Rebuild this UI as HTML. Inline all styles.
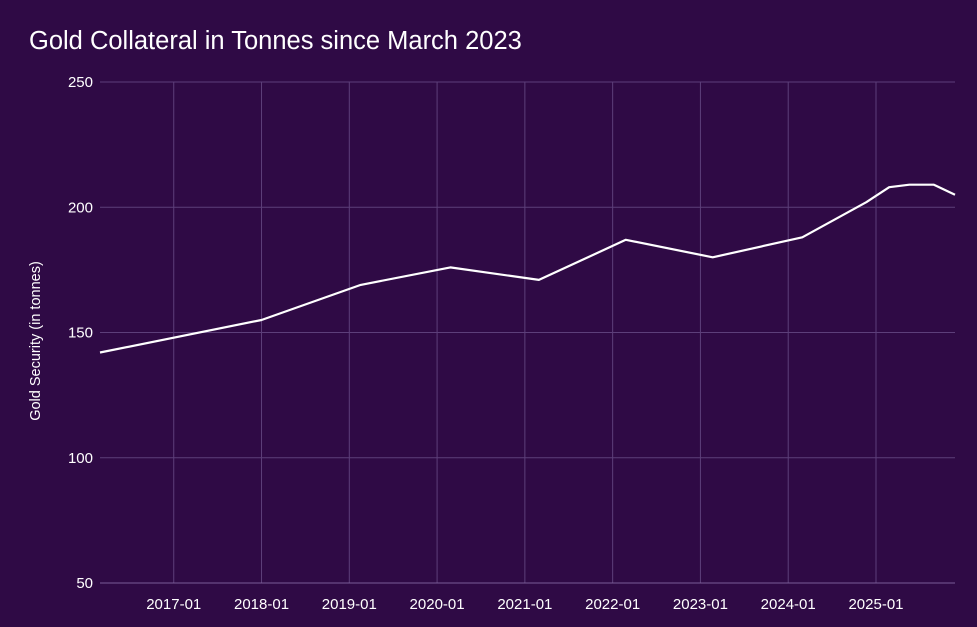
<!DOCTYPE html>
<html><head><meta charset="utf-8"><style>
html,body{margin:0;padding:0;background:#2f0a45;}
svg{display:block;font-family:"Liberation Sans",Arial,sans-serif;}
</style></head><body>
<svg id="chart" width="977" height="627">
<rect width="977" height="627" fill="#2f0a45"/>
<text x="29" y="49" fill="#ffffff" font-size="25.5">Gold Collateral in Tonnes since March 2023</text>
<text transform="translate(40,341) rotate(-90)" text-anchor="middle" fill="#ffffff" font-size="14.5">Gold Security (in tonnes)</text>
<g id="grid"></g><g id="ticks"></g><g id="series"></g>
</svg>
<script>
const xTickLabels=["2017-01","2018-01","2019-01","2020-01","2021-01","2022-01","2023-01","2024-01","2025-01"];
const xTickYears=[2017,2018,2019,2020,2021,2022,2023,2024,2025];
const yTicks=[50,100,150,200,250];
const dates=[2016.16,2018.0,2019.13,2020.15,2021.16,2022.15,2023.14,2024.16,2024.89,2025.15,2025.38,2025.66,2025.9];
const values=[142,155,169,176,171,187,180,188,202,208,209,209,205];
const L=100,R=955,T=82,B=583,xMin=2016.16,xMax=2025.9,yMin=50,yMax=250;
const NS="http://www.w3.org/2000/svg";
function xs(v){return L+(v-xMin)/(xMax-xMin)*(R-L);}
function ys(v){return B-(v-yMin)/(yMax-yMin)*(B-T);}
function mk(tag,attrs,parent){const e=document.createElementNS(NS,tag);for(const k in attrs)e.setAttribute(k,attrs[k]);parent.appendChild(e);return e;}
const grid=document.getElementById('grid'),ticks=document.getElementById('ticks'),series=document.getElementById('series');
yTicks.forEach(v=>{
 const l=mk('line',{x1:L,x2:R,y1:ys(v),y2:ys(v),stroke:'#5d3f7a','stroke-width':1},grid);
 
 
 const t=mk('text',{x:L-7,y:ys(v)+5,'text-anchor':'end',fill:'#ffffff','font-size':15},ticks);
 t.textContent=v;
 
 
});
xTickYears.forEach((v,i)=>{
 const l=mk('line',{x1:xs(v),x2:xs(v),y1:T,y2:B,stroke:'#5d3f7a','stroke-width':1},grid);
 
 
 const t=mk('text',{x:xs(v),y:B+26,'text-anchor':'middle',fill:'#ffffff','font-size':15},ticks);
 t.textContent=xTickLabels[i];
 
 
});
const ax=mk('line',{x1:L,x2:R,y1:B,y2:B,stroke:'#7a5c96','stroke-width':1},grid);


const p=mk('path',{d:dates.map((d,i)=>(i?'L':'M')+xs(d).toFixed(1)+' '+ys(values[i]).toFixed(1)).join(' '),fill:'none',stroke:'#ffffff','stroke-width':2.2,'stroke-linejoin':'round'},series);


</script>
</body></html>
